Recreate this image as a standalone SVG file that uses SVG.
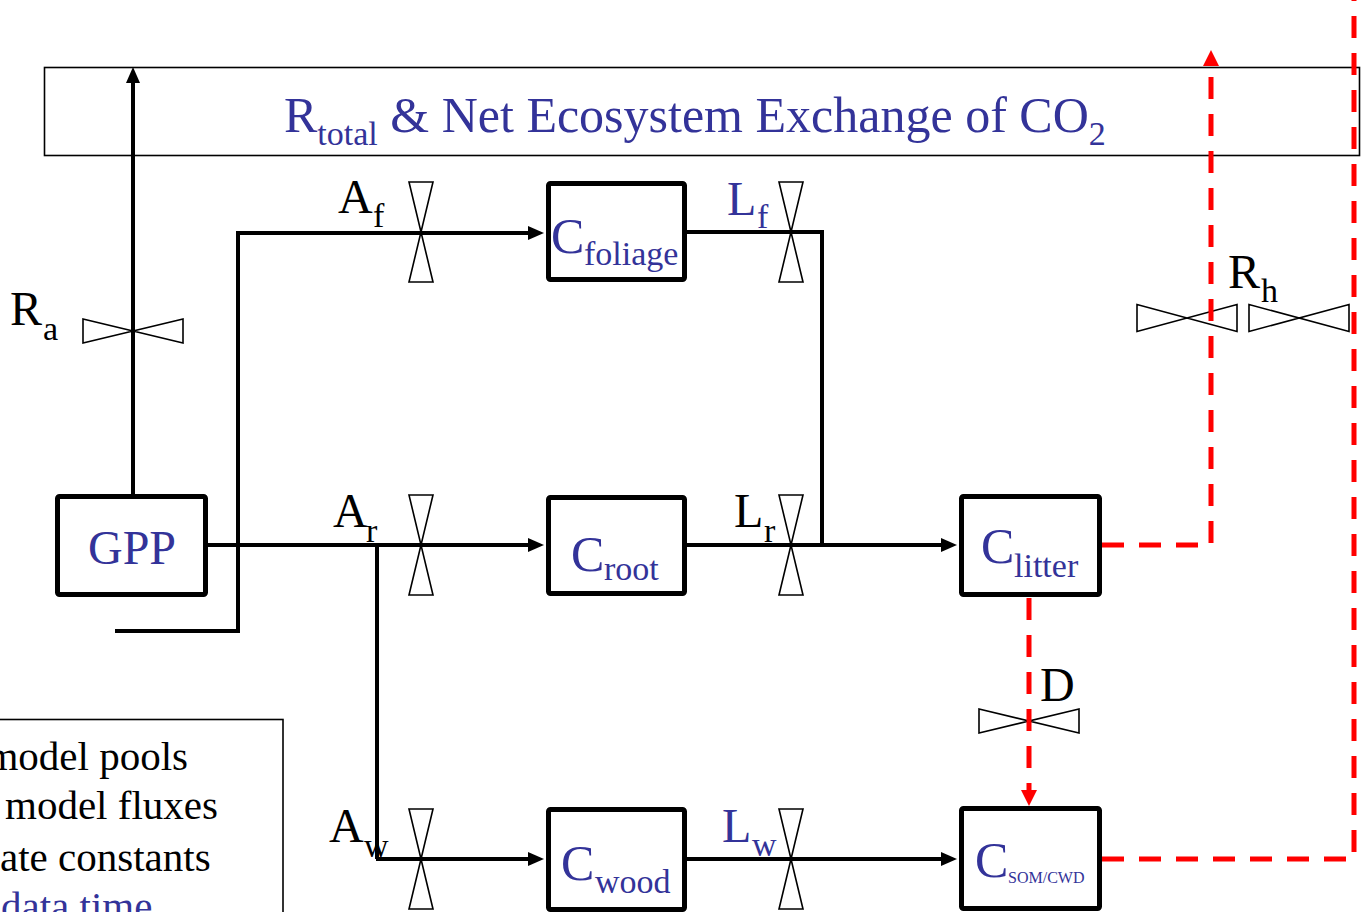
<svg xmlns="http://www.w3.org/2000/svg" width="1361" height="912" viewBox="0 0 1361 912">
<style>
text{font-family:"Liberation Serif","Times New Roman",serif;}
.blue{fill:#333399;}
.lbl{font-size:48px;}
.sub{font-size:34px;}
.main{font-size:50px;}
.leg{font-size:41px;}
.box{fill:#fff;stroke:#000;stroke-width:5;}
.valve{fill:#fff;stroke:#000;stroke-width:1.6;}
.flow{fill:none;stroke:#000;stroke-width:4;}
.red{fill:none;stroke:#ff0000;stroke-width:5;stroke-dasharray:22 15;}
</style>
<defs>
<marker id="ab" markerUnits="userSpaceOnUse" markerWidth="16" markerHeight="14" refX="0" refY="7" orient="auto" overflow="visible"><path d="M0,0 L16,7 L0,14 Z" fill="#000"/></marker>
<marker id="ar" markerUnits="userSpaceOnUse" markerWidth="16" markerHeight="16" refX="0" refY="8" orient="auto" overflow="visible"><path d="M0,0 L16,8 L0,16 Z" fill="#ff0000"/></marker>
<path id="vv" d="M-12,-50 L12,-50 L-12,50 L12,50 Z"/>
<path id="hv" d="M-50,-12 L-50,12 L50,-12 L50,12 Z"/>
<path id="hv2" d="M-50,-13.5 L-50,13.5 L50,-13.5 L50,13.5 Z"/>
</defs>
<rect width="1361" height="912" fill="#fff"/>

<g id="nee">
<rect x="44.5" y="67.5" width="1315" height="88" fill="#fff" stroke="#000" stroke-width="1.6"/>
<text x="284" y="132" class="blue main">R<tspan class="sub" dy="13">total</tspan><tspan font-size="50px" dy="-13"> &amp; Net Ecosystem Exchange of CO</tspan><tspan class="sub" dy="13">2</tspan></text>
</g>

<g id="legend">
<rect x="-10" y="719.5" width="293" height="220" fill="#fff" stroke="#000" stroke-width="1.6"/>
<text x="188" y="770" class="leg" text-anchor="end">model pools</text>
<text x="5" y="819" class="leg">model fluxes</text>
<text x="0" y="871" class="leg">ate constants</text>
<text x="1" y="920" class="leg blue">data time</text>
</g>

<g id="valves">
<use href="#hv" x="133" y="331" class="valve"/>
<use href="#vv" x="421" y="232" class="valve"/>
<use href="#vv" x="421" y="545" class="valve"/>
<use href="#vv" x="421" y="859" class="valve"/>
<use href="#vv" x="791" y="232" class="valve"/>
<use href="#vv" x="791" y="545" class="valve"/>
<use href="#vv" x="791" y="859" class="valve"/>
<use href="#hv" x="1029" y="721" class="valve"/>
<use href="#hv2" x="1187" y="318" class="valve"/>
<use href="#hv2" x="1299" y="318" class="valve"/>
</g>

<g id="connectors">
<path class="flow" stroke-width="3.5" d="M133,494 V83" marker-end="url(#ab)"/>
<path class="flow" d="M208,545 H528" marker-end="url(#ab)"/>
<path class="flow" d="M115,631 H238 V233 H528" marker-end="url(#ab)"/>
<path class="flow" stroke-width="3" d="M377,545 V859"/>
<path class="flow" d="M376,859 H528" marker-end="url(#ab)"/>
<path class="flow" d="M687,232 H822 V545"/>
<path class="flow" d="M687,545 H941" marker-end="url(#ab)"/>
<path class="flow" d="M687,859 H941" marker-end="url(#ab)"/>
<path class="red" d="M1102,545 H1211 V66" marker-end="url(#ar)"/>
<path class="red" d="M1029,598 V790" marker-end="url(#ar)"/>
<path class="red" d="M1102,859 H1354 V0"/>
</g>

<g id="labels">
<text x="10" y="325" class="lbl">R</text><text x="43" y="340" class="sub">a</text>
<text x="338" y="213" class="lbl">A</text><text x="373" y="227" class="sub">f</text>
<text x="333" y="527" class="lbl">A</text><text x="366" y="542" class="sub">r</text>
<text x="329" y="842" class="lbl">A</text><text x="364" y="857" class="sub">w</text>
<text x="727" y="215" class="lbl blue">L</text><text x="757" y="228" class="sub blue">f</text>
<text x="734" y="527" class="lbl">L</text><text x="764" y="542" class="sub">r</text>
<text x="722" y="842" class="lbl blue">L</text><text x="752" y="856" class="sub blue">w</text>
<text x="1228" y="288" class="lbl">R</text><text x="1261" y="302" class="sub">h</text>
<text x="1040" y="701" class="lbl">D</text>
</g>

<g id="gpp">
<rect x="57.5" y="496.5" width="148" height="98" rx="2" class="box"/>
<text x="132" y="564" font-size="48" text-anchor="middle" class="blue">GPP</text>
</g>
<g id="cfoliage">
<rect x="548.5" y="183.5" width="136" height="96" rx="2" class="box"/>
<text x="551" y="253" class="main blue">C</text><text x="584" y="265" class="sub blue">foliage</text>
</g>
<g id="croot">
<rect x="548.5" y="497.5" width="136" height="96" rx="2" class="box"/>
<text x="571" y="571" class="main blue">C</text><text x="604" y="580" class="sub blue">root</text>
</g>
<g id="cwood">
<rect x="548.5" y="809.5" width="136" height="100" rx="2" class="box"/>
<text x="561" y="880" class="main blue">C</text><text x="595" y="893" class="sub blue">wood</text>
</g>
<g id="clitter">
<rect x="961.5" y="496.5" width="138" height="98" rx="2" class="box"/>
<text x="981" y="563" class="main blue">C</text><text x="1014" y="577" class="sub blue">litter</text>
</g>
<g id="csom">
<rect x="961.5" y="808.5" width="138" height="100" rx="2" class="box"/>
<text x="975" y="877" class="main blue">C</text><text x="1008" y="883" font-size="16" class="blue">SOM/CWD</text>
</g>
</svg>
